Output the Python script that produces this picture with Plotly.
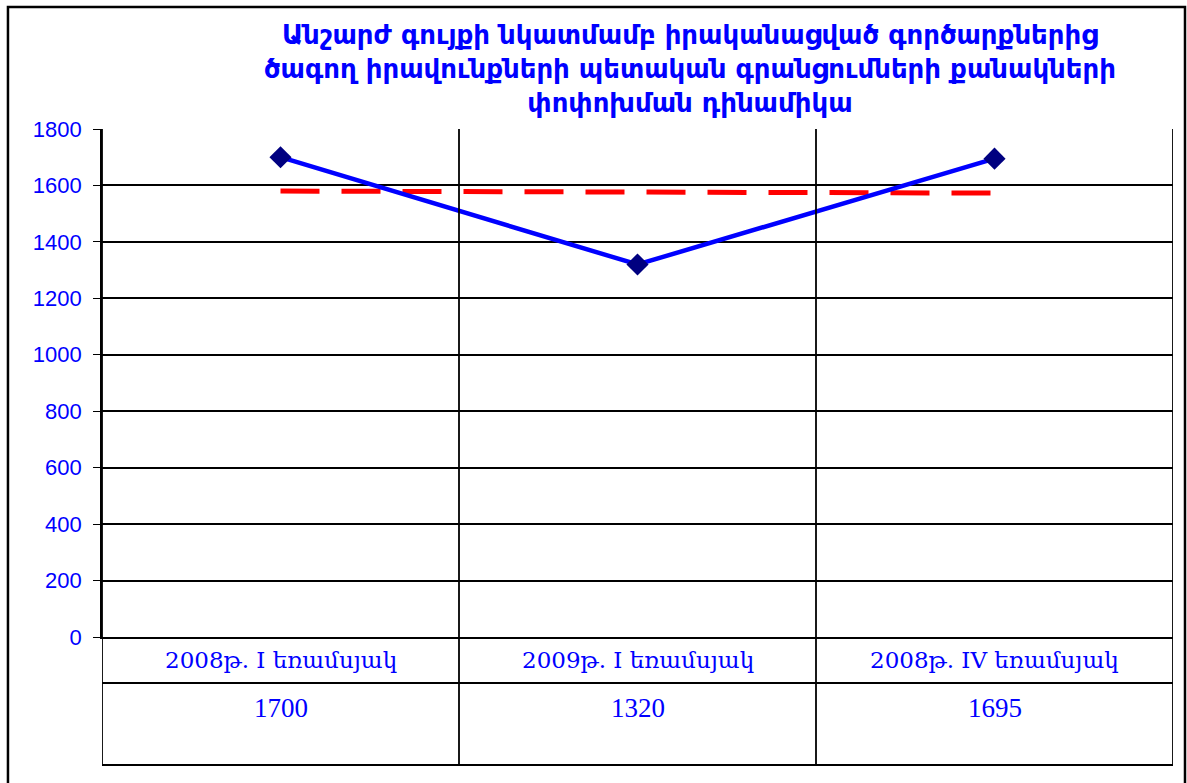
import plotly.graph_objects as go

# data
categories = ["2008թ. I եռամսյակ", "2009թ. I եռամսյակ", "2008թ. IV եռամսյակ"]
deals = [1700, 1320, 1695]
trend = [1580, 1577, 1573]
y_ticks = [0, 200, 400, 600, 800, 1000, 1200, 1400, 1600, 1800]

title_text = ("Անշարժ գույքի նկատմամբ իրականացված գործարքներից<br>"
              "ծագող իրավունքների պետական գրանցումների քանակների<br>"
              "փոփոխման դինամիկա")

BLUE = "#0000FF"
NAVY = "#000080"
x_idx = list(range(len(categories)))

fig = go.Figure()

# red dashed line (trend)
fig.add_trace(go.Scatter(
    x=x_idx, y=trend, mode="lines",
    line=dict(color="#FF0000", width=5, dash="39px,22px"),
    showlegend=False, hoverinfo="skip"))

# main series
fig.add_trace(go.Scatter(
    x=x_idx, y=deals, mode="lines+markers",
    line=dict(color=BLUE, width=4.5),
    marker=dict(symbol="diamond", size=17, color=NAVY),
    showlegend=False))

# table rows / column lines below the plot
row1, row2 = -0.0906, -0.252
shapes = []
for b in [-0.5, 0.5, 1.5, 2.5]:
    shapes.append(dict(type="line", xref="x", yref="paper", x0=b, x1=b, y0=1, y1=row2,
                       line=dict(color="black", width=1.8)))
for yy in [row1, row2]:
    shapes.append(dict(type="line", xref="x", yref="paper", x0=-0.5, x1=2.5, y0=yy, y1=yy,
                       line=dict(color="black", width=1.8)))
# outer chart frame
shapes.append(dict(type="rect", xref="paper", yref="paper", x0=-0.0878, x1=1.0112,
                   y0=-0.29, y1=1.240, line=dict(color="black", width=2.5)))

annotations = [dict(text=title_text, xref="paper", yref="paper", x=0.549, y=1.118,
                    xanchor="center", yanchor="middle", showarrow=False,
                    font=dict(family="DejaVu Sans", size=26, color=BLUE, weight="bold"))]
for i, (c, v) in enumerate(zip(categories, deals)):
    annotations.append(dict(text=c, xref="x", yref="paper", x=i, y=-0.0453,
                            showarrow=False, yanchor="middle",
                            font=dict(family="DejaVu Serif", size=23, color=BLUE)))
    annotations.append(dict(text=str(v), xref="x", yref="paper", x=i, y=-0.14,
                            showarrow=False, yanchor="middle",
                            font=dict(family="Liberation Serif", size=27, color=BLUE)))

fig.update_layout(
    width=1187, height=783,
    margin=dict(l=102, r=14, t=129, b=146),
    paper_bgcolor="white", plot_bgcolor="white",
    shapes=shapes, annotations=annotations,
    xaxis=dict(range=[-0.5, 2.5], showticklabels=False, showgrid=False,
               zeroline=False, showline=True, linecolor="black", linewidth=2,
               fixedrange=True),
    yaxis=dict(range=[0, 1800], tickvals=y_ticks, showgrid=True,
               gridcolor="black", gridwidth=1.8, zeroline=False,
               showline=True, linecolor="black", linewidth=1.8,
               ticks="outside", ticklen=7, tickcolor="black",
               ticklabelstandoff=7,
               tickfont=dict(family="Liberation Sans", size=22, color=BLUE)),
)

# drop the default page margin so the figure sits at the window origin
fig.write_html("out.html", config={"displayModeBar": False},
               post_script="document.body.style.margin='0';")
